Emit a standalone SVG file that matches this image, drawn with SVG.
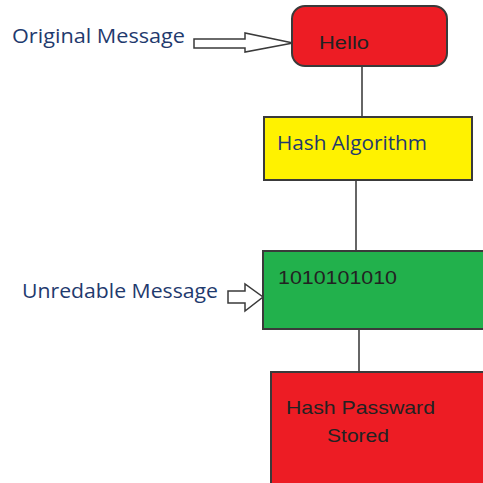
<svg xmlns="http://www.w3.org/2000/svg" width="483" height="483" viewBox="0 0 483 483">
<style>
.box{stroke:#3a3a3a;stroke-width:2}
.lbl{font-family:"Open Sans","Liberation Sans",sans-serif;font-size:20px;fill:#1f3a6e}
.in{font-family:"Liberation Sans",sans-serif;font-size:19px;fill:#222}
.arr{fill:#fff;stroke:#3a3a3a;stroke-width:1.5}
.con{stroke:#333;stroke-width:1.5;fill:none}
</style>
<rect width="483" height="483" fill="#fff"/>
<g id="connectors">
<line class="con" x1="362" y1="66" x2="362" y2="117"/>
<line class="con" x1="356" y1="180" x2="356" y2="251"/>
<line class="con" x1="359" y1="329" x2="359" y2="372"/>
<polygon class="arr" points="194,39 245,39 245,33 293,43 245,52 245,48 194,48"/>
<polygon class="arr" points="228,291 245,291 245,284 263,297 245,311 245,303 228,303"/>
</g>
<g id="label-original"><text class="lbl" x="12" y="43" textLength="173" lengthAdjust="spacingAndGlyphs">Original Message</text></g>
<g id="label-unredable"><text class="lbl" x="22" y="298" textLength="196" lengthAdjust="spacingAndGlyphs">Unredable Message</text></g>
<g id="hello">
<rect class="box" x="292" y="6" width="155" height="60" rx="13" fill="#ED1C24"/>
<text class="in" x="319" y="49" textLength="50" lengthAdjust="spacingAndGlyphs">Hello</text>
</g>
<g id="hash-algorithm">
<rect class="box" x="264" y="117" width="208" height="63" fill="#FFF200"/>
<text class="lbl" x="277" y="150" textLength="150" lengthAdjust="spacingAndGlyphs">Hash Algorithm</text>
</g>
<g id="binary">
<rect class="box" x="263" y="251" width="225" height="78" fill="#22B14C"/>
<text class="in" x="278" y="284" textLength="119" lengthAdjust="spacingAndGlyphs">1010101010</text>
</g>
<g id="stored">
<rect class="box" x="271" y="372" width="220" height="120" fill="#ED1C24"/>
<text class="in" x="286" y="414" textLength="149" lengthAdjust="spacingAndGlyphs">Hash Passward</text>
<text class="in" x="327" y="442" textLength="62" lengthAdjust="spacingAndGlyphs">Stored</text>
</g>
</svg>
